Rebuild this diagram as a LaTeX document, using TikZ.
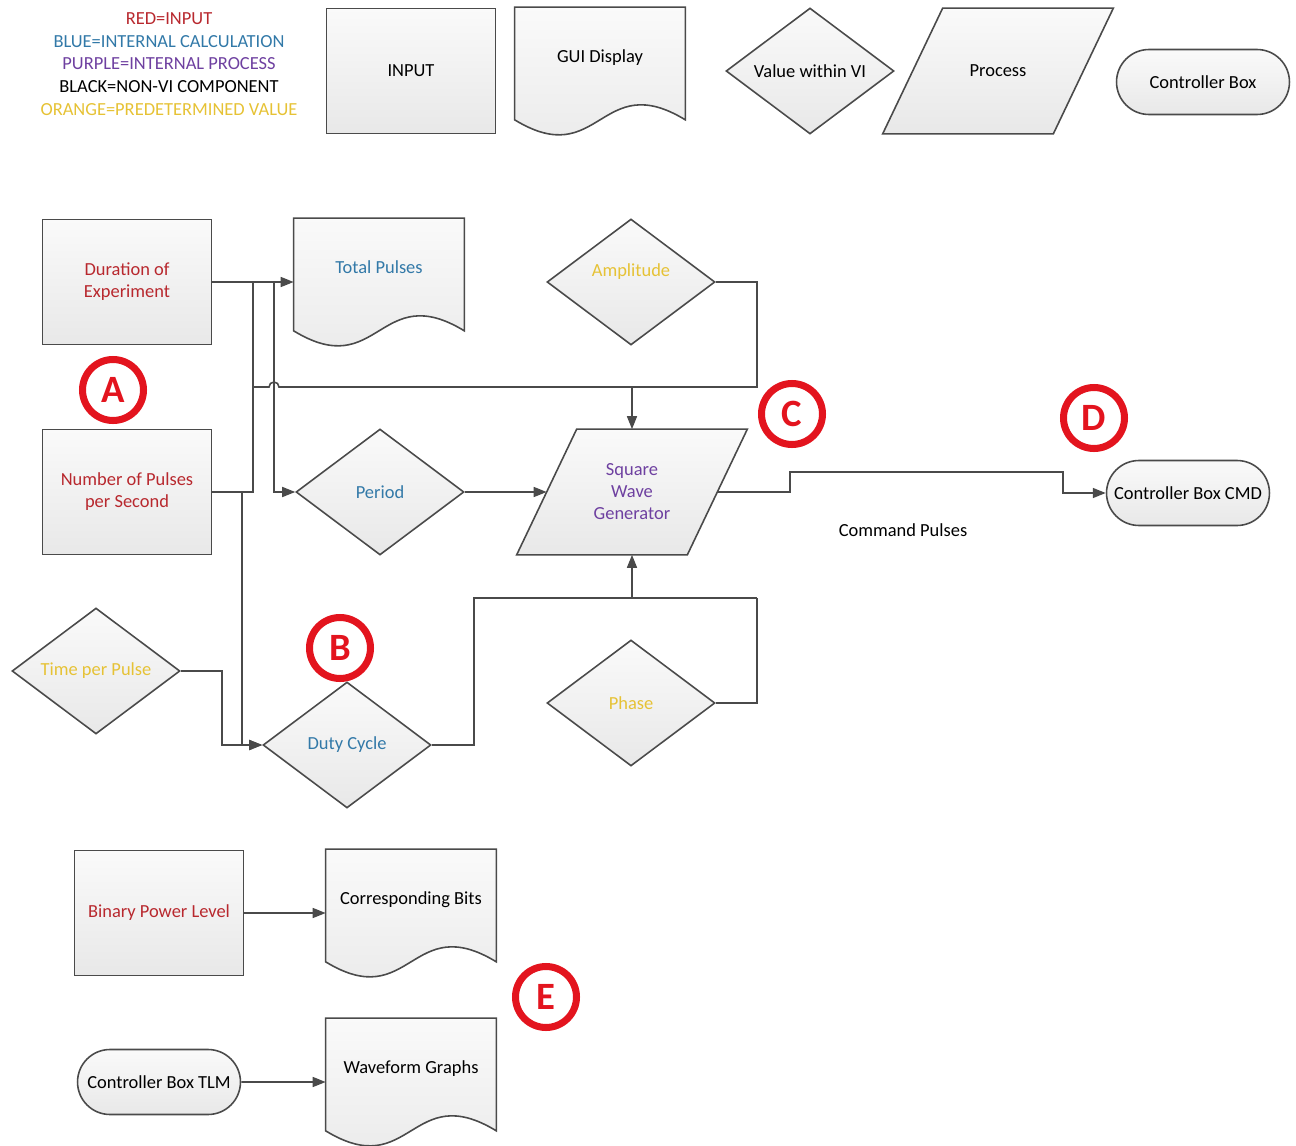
\documentclass[tikz,border=0pt]{standalone}
\usepackage{fontspec}
\setmainfont{Carlito}
\usetikzlibrary{shapes.geometric,shapes.misc,arrows.meta,backgrounds,calc}
\definecolor{inred}{HTML}{B8282E}
\definecolor{calcblue}{HTML}{3279A8}
\definecolor{procpurple}{HTML}{6E40A0}
\definecolor{predyellow}{HTML}{E6C235}
\definecolor{markred}{HTML}{E3141E}
\definecolor{edgegray}{HTML}{4A4A4A}
\tikzset{
  shapefill/.style={top color=white!98!black, bottom color=white!91!black},
  inbox/.style={rectangle, draw=edgegray, line width=0.9pt, shapefill, minimum width=3.38cm, minimum height=2.5cm, align=center},
  docbox/.style={rectangle, minimum width=3.4cm, minimum height=2.54cm, text height=0.25cm, text depth=0.6cm},
  procbox/.style={rectangle, minimum width=3.4cm, minimum height=2.5cm, align=center},
  valuebox/.style={diamond, draw=edgegray, line width=0.9pt, shapefill, shape aspect=1.33, minimum width=3.36cm, minimum height=2.52cm, inner sep=1pt},
  ctrl/.style={rounded rectangle, draw=edgegray, line width=0.9pt, shapefill, minimum width=3.4cm, minimum height=1.3cm, inner xsep=2pt},
  tagring/.style={circle, draw=markred, line width=4pt, minimum size=1.22cm, inner sep=0pt, text=markred, font=\fontsize{22}{22}\selectfont\bfseries},
  wire/.style={draw=edgegray, line width=0.9pt},
  flow/.style={wire, -{Triangle[length=0.26cm,width=0.2cm]}},
}
\begin{document}
\begin{tikzpicture}[x=0.02cm, y=-0.02cm, every node/.style={font=\fontsize{10.5}{12.5}\selectfont}]
  \useasboundingbox (0,0) rectangle (1296,1146);
  % Legend
  \node[align=center, font=\fontsize{10.5}{13}\selectfont] (legend) at (169,64) {\textcolor{inred}{RED=INPUT}\\ \textcolor{calcblue}{BLUE=INTERNAL CALCULATION}\\ \textcolor{procpurple}{PURPLE=INTERNAL PROCESS}\\ BLACK=NON-VI COMPONENT\\ \textcolor{predyellow}{ORANGE=PREDETERMINED VALUE}};
  \node[inbox] (kinput) at (411,71) {INPUT};
  \node[docbox] (kgui) at (600,71) {GUI Display};
  \node[valuebox] (kvalue) at (810,71) {Value within VI};
  \node[procbox] (kproc) at (998,71) {Process};
  \node[ctrl, minimum width=3.6cm] (kctrl) at (1203,82) {Controller Box};
  % Square wave part
  \node[inbox, text=inred] (dur) at (127,282) {Duration of\\Experiment};
  \node[inbox, text=inred] (num) at (127,492) {Number of Pulses\\per Second};
  \node[valuebox, text=predyellow] (tpp) at (96,671) {Time per Pulse};
  \node[docbox, text=calcblue] (total) at (379,282) {Total Pulses};
  \node[valuebox, text=predyellow] (amp) at (631,282) {\raisebox{0.12cm}[0pt][0pt]{Amplitude}};
  \node[valuebox, text=calcblue] (period) at (380,492) {Period};
  \node[procbox, text=procpurple] (sq) at (632,492) {Square\\Wave\\Generator};
  \node[valuebox, text=calcblue] (duty) at (347,745) {Duty Cycle};
  \node[valuebox, text=predyellow] (phase) at (631,703) {Phase};
  \node[ctrl] (cmd) at (1188,493) {Controller Box CMD};
  \node (cmdlabel) at (903,530) {Command Pulses};
  % Power level and telemetry
  \node[inbox, text=inred] (bin) at (159,913) {Binary Power Level};
  \node[docbox] (bits) at (411,913) {Corresponding Bits};
  \node[ctrl] (tlm) at (159,1082) {Controller Box TLM};
  \node[docbox] (graphs) at (411,1082) {Waveform Graphs};
  % Markers
  \node[tagring] (ma) at (113,390) {A};
  \node[tagring] (mb) at (340,648) {B};
  \node[tagring] (mc) at (792,414) {C};
  \node[tagring] (md) at (1094,418) {D};
  \node[tagring] (me) at (546,997) {E};
  % Document and process outlines
  \begin{scope}[on background layer]
    \foreach \n in {kgui,total,bits,graphs} {
      \draw[wire, shapefill] (\n.north west) -- (\n.north east) -- ($(\n.south east)+(0,-15)$) .. controls ($(\n.south)+(0,-67)$) and ($(\n.south)+(0,37)$) .. ($(\n.south west)+(0,-15)$) -- cycle;
    }
    \foreach \n in {kproc,sq} {
      \draw[wire, shapefill] ([xshift=0.6cm]\n.north west) -- ([xshift=0.6cm]\n.north east) -- ([xshift=-0.6cm]\n.south east) -- ([xshift=-0.6cm]\n.south west) -- cycle;
    }
  \end{scope}
  % Bends
  \coordinate (ja) at (253,282);
  \coordinate (jb) at (274,282);
  \coordinate (jc) at (242,492);
  \coordinate (jd) at (757,387);
  \coordinate (je) at (474,598);
  \coordinate (jf) at (757,598);
  \coordinate (jg) at (790,472);
  \coordinate (jh) at (1063,472);
  \coordinate (ji) at (222,745);
  % Connectors
  \draw[flow] (dur) -- (total);
  \draw[wire] (num.east) -| (ja);
  \draw[flow] (jb) |- (period);
  \draw[flow] (jc) |- (duty);
  \draw[flow] (tpp) -| (ji) -- (duty);
  \draw[wire] (amp) -| (jd) -- ([xshift=0.1cm]jb |- jd) arc[start angle=0, end angle=180, radius=0.1cm] -- (ja |- jd);
  \draw[flow] (sq |- jd) -- (sq.north);
  \draw[flow] (period) -- (sq);
  \draw[wire] (duty) -| (je) -- (jf);
  \draw[wire] (phase) -| (jf);
  \draw[flow] (sq |- je) -- (sq.south);
  \draw[flow] (sq.east) -| (jg) -- (jh) |- (cmd);
  \draw[flow] (bin) -- (bits);
  \draw[flow] (tlm) -- (graphs);
\end{tikzpicture}
\end{document}
